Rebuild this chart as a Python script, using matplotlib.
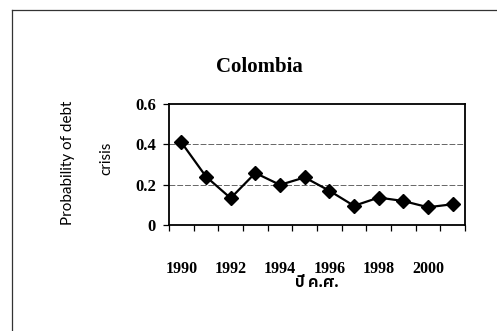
import numpy as np
import matplotlib
matplotlib.use('Agg')
import matplotlib.pyplot as plt
from matplotlib import font_manager
from matplotlib.lines import Line2D

# Datos
anios = [1990, 1991, 1992, 1993, 1994, 1995, 1996, 1997, 1998, 1999, 2000, 2001]
probabilidad = [0.41, 0.24, 0.133, 0.258, 0.199, 0.236, 0.170, 0.095, 0.136, 0.119, 0.088, 0.103]
etiquetas_x = ['1990', '1992', '1994', '1996', '1998', '2000']
ticks_y = [0, 0.2, 0.4, 0.6]
etiquetas_y = ['0', '0.2', '0.4', '0.6']
titulo = 'Colombia'
etiqueta_y1 = 'Probability of debt'
etiqueta_y2 = 'crisis'
etiqueta_x = 'ปี ค.ศ.'

# Buscar una fuente con glifos tailandeses si existe
nombres = set(f.name for f in font_manager.fontManager.ttflist)
fuente_thai = [n for n in nombres if 'Thai' in n or n in ('Loma', 'Garuda', 'Norasi', 'Kinnari', 'Waree', 'Sawasdee', 'Umpush', 'Tlwg Typo')]
familia_thai = sorted(fuente_thai) + ['DejaVu Sans']

fig = plt.figure(figsize=(4.97, 3.31), dpi=100)
fig.patch.set_facecolor('white')

# Marco exterior (solo izquierda y arriba visibles en el recorte)
fig.add_artist(Line2D([12 / 497, 12 / 497], [0, 1 - 10 / 331], transform=fig.transFigure,
                      color='#333333', lw=0.9))
fig.add_artist(Line2D([12 / 497, 1], [1 - 10 / 331, 1 - 10 / 331], transform=fig.transFigure,
                      color='#333333', lw=0.9))

ax = fig.add_axes([169 / 497, 1 - 225 / 331, 296 / 497, 121 / 331])
x = np.arange(len(anios))
ax.plot(x, probabilidad, color='black', lw=1.6, marker='D', markersize=7.5,
        markerfacecolor='black', markeredgecolor='black', zorder=3)

ax.set_xlim(-0.5, len(anios) - 0.5)
ax.set_ylim(0, 0.6)

# Ticks del eje x: marcas entre categorias, etiquetas cada dos anios
ax.set_xticks(x[::2])
ax.set_xticklabels(etiquetas_x, fontfamily='Liberation Serif', fontweight='bold', fontsize=11.5)
ax.set_xticks(np.arange(-0.5, len(anios), 1.0), minor=True)
ax.tick_params(axis='x', which='major', length=0, pad=26)
ax.tick_params(axis='x', which='minor', length=4, width=0.9, direction='out')

ax.set_yticks(ticks_y)
ax.set_yticklabels(etiquetas_y, fontfamily='Liberation Serif', fontweight='bold', fontsize=12)
ax.tick_params(axis='y', length=4.5, width=0.9, direction='out', pad=5)

for y in ticks_y[1:-1]:
    ax.axhline(y, color='#666666', lw=0.7, ls=(0, (6, 2)), zorder=1)

for s in ax.spines.values():
    s.set_linewidth(1.3)
    s.set_color('black')

fig.text(259 / 497, 1 - 67 / 331, titulo, ha='center', va='center',
         fontfamily='Liberation Serif', fontweight='bold', fontsize=15)
fig.text(68 / 497, 1 - 163 / 331, etiqueta_y1, ha='center', va='center', rotation=90,
         fontfamily='Lato', fontsize=11)
fig.text(106 / 497, 1 - 158 / 331, etiqueta_y2, ha='center', va='center', rotation=90,
         fontfamily='Lato', fontsize=11)
fig.text(317 / 497, 1 - 283 / 331, etiqueta_x, ha='center', va='center',
         family=familia_thai, fontweight='bold', fontsize=11)

fig.savefig('out.png', dpi=100)
